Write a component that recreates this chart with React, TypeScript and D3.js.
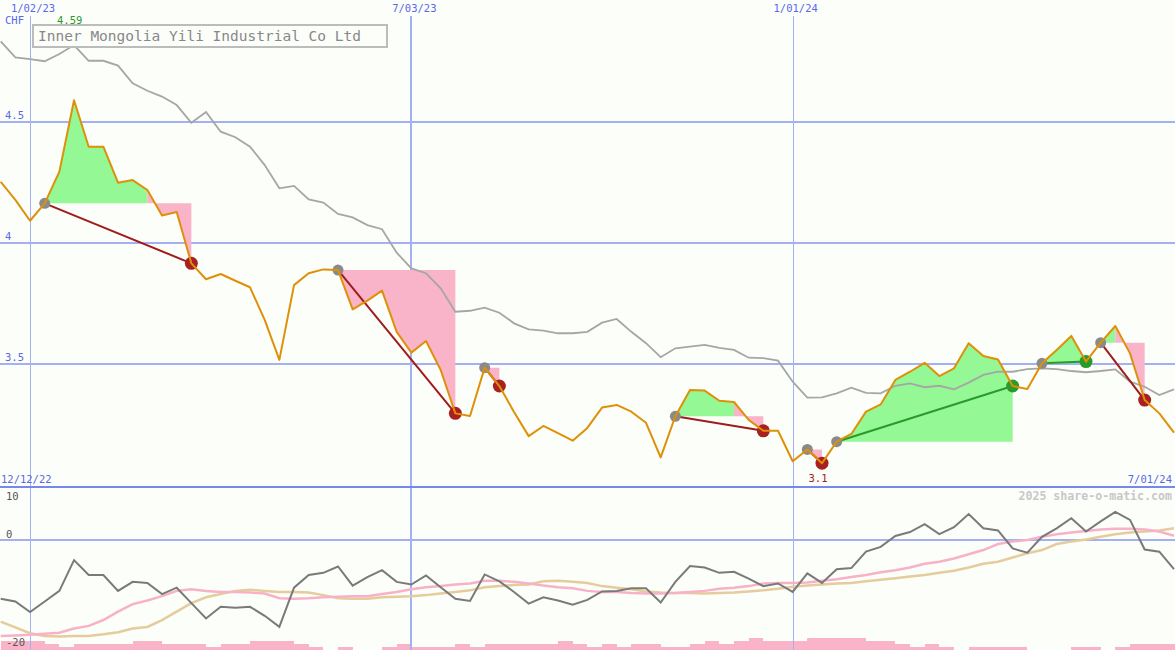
import React from "react";
import * as d3 from "d3";

const price = [4.253,4.178,4.092,4.164,4.295,4.59,4.398,4.398,4.249,4.26,4.219,4.114,4.128,3.916,3.85,3.872,3.844,3.817,3.682,3.517,3.826,3.875,3.891,3.888,3.726,3.762,3.803,3.633,3.547,3.595,3.475,3.296,3.285,3.485,3.409,3.302,3.202,3.244,3.214,3.183,3.236,3.32,3.331,3.303,3.257,3.114,3.284,3.393,3.39,3.348,3.343,3.269,3.224,3.224,3.098,3.147,3.09,3.179,3.211,3.303,3.333,3.434,3.468,3.505,3.45,3.482,3.586,3.533,3.519,3.409,3.397,3.503,3.558,3.616,3.51,3.588,3.657,3.544,3.351,3.296,3.216];
const avg = [4.833,4.767,4.76,4.751,4.781,4.818,4.753,4.753,4.733,4.66,4.629,4.605,4.57,4.497,4.541,4.46,4.437,4.398,4.322,4.226,4.236,4.18,4.167,4.12,4.106,4.074,4.057,3.96,3.895,3.875,3.813,3.716,3.72,3.733,3.712,3.668,3.643,3.638,3.627,3.627,3.633,3.671,3.686,3.633,3.586,3.528,3.565,3.572,3.579,3.567,3.558,3.526,3.524,3.514,3.427,3.361,3.362,3.379,3.402,3.381,3.379,3.41,3.42,3.404,3.41,3.395,3.423,3.455,3.468,3.468,3.479,3.482,3.479,3.471,3.466,3.471,3.478,3.427,3.406,3.372,3.395];
const momentum = [-11.1,-11.6,-13.6,-11.6,-9.6,-3.8,-6.6,-6.6,-9.6,-7.9,-8.1,-10.2,-9.0,-11.9,-14.8,-12.6,-12.8,-12.6,-14.3,-16.4,-9.0,-6.6,-6.2,-5.0,-8.6,-7.0,-5.7,-7.9,-8.4,-6.7,-8.9,-11.1,-11.5,-6.5,-7.8,-9.8,-12.0,-10.8,-11.4,-12.2,-11.3,-9.7,-9.6,-9.1,-9.1,-11.8,-7.9,-4.9,-5.2,-6.2,-6.0,-7.3,-8.7,-8.2,-9.8,-6.3,-8.1,-5.5,-5.3,-2.2,-1.3,0.75,1.5,3.0,1.1,2.4,4.9,2.2,1.8,-1.6,-2.4,0.6,2.2,4.1,1.6,3.5,5.3,3.8,-1.8,-2.2,-5.5];
const signalPink = [-18.1,-18.0,-17.9,-17.7,-17.5,-16.7,-16.2,-15.1,-13.5,-12.1,-11.4,-10.6,-9.6,-9.3,-9.6,-9.8,-9.8,-9.9,-10.1,-11.0,-11.1,-11.0,-10.8,-10.7,-10.6,-10.6,-10.2,-9.8,-9.3,-8.9,-8.7,-8.4,-8.2,-7.7,-7.7,-7.9,-8.2,-8.6,-8.9,-9.1,-9.6,-9.8,-9.8,-10.0,-10.1,-10.1,-10.0,-9.8,-9.6,-9.2,-9.0,-8.7,-8.2,-8.1,-8.1,-8.0,-7.7,-7.4,-7.0,-6.6,-6.1,-5.7,-5.2,-4.5,-4.1,-3.5,-2.7,-1.9,-0.75,-0.3,0,0.6,1.1,1.4,1.7,2.0,2.1,2.1,2.0,1.6,0.8];
const signalTan = [-15.4,-16.5,-17.6,-18.1,-18.2,-18.1,-18.1,-17.8,-17.4,-16.7,-16.4,-15.1,-13.5,-11.9,-10.8,-10.2,-9.6,-9.4,-9.6,-9.8,-9.8,-9.9,-10.4,-11.0,-11.1,-11.1,-10.8,-10.7,-10.6,-10.4,-10.1,-9.8,-9.5,-8.9,-8.7,-8.5,-8.4,-7.8,-7.7,-7.9,-8.1,-8.7,-9.0,-9.3,-9.7,-9.9,-10.0,-10.0,-10.1,-10.0,-9.9,-9.7,-9.5,-9.2,-8.8,-8.6,-8.4,-8.2,-8.1,-7.8,-7.5,-7.2,-6.9,-6.6,-6.2,-5.8,-5.2,-4.5,-4.1,-3.3,-2.5,-1.9,-0.75,-0.3,0.1,0.6,1.1,1.4,1.6,1.8,2.2];
const volume = [9,9,9,6,3,6,6,6,6,9,9,6,6,6,3,6,6,9,9,9,6,3,0,3,0,0,3,6,3,3,3,6,3,6,6,6,6,6,9,6,3,6,3,6,6,3,3,6,9,6,9,12,9,9,9,12,12,12,12,9,9,6,3,6,3,0,3,3,3,3,0,0,0,3,3,0,3,6,6,6,6];

const tradeStarts = [3, 23, 33, 46, 55, 57, 71, 75];
const tradeEnds = [13, 31, 34, 52, 56, 69, 74, 78];

const dateTickLabels = ["1/02/23", "7/03/23", "1/01/24"];
const dateTickIndex = [2, 28, 54];
const dateTickWidth = [1, 2, 1];
const priceTicks = [4.5, 4, 3.5];
const lowerTickValues = [10, 0, -20];

const W = 1175;
const H = 650;
const FONT = "'DejaVu Sans Mono', monospace";
const BLUE_TEXT = "#5a68e8";
const GRID = "#a4b0f2";
const BG = "#fcfefa";
const GREEN_FILL = "#94f894";
const PINK_FILL = "#f9b4c9";

export default function App() {
  const x = d3.scaleLinear().domain([0, price.length - 1]).range([0.7, 1174]);
  const y = d3.scaleLinear().domain([3.5, 4.5]).range([364, 122]);
  const yl = d3.scaleLinear().domain([0, 10]).range([540, 487]);
  const yv = d3.scaleLinear().domain([0, 12]).range([650, 638]);

  const lineP = d3.line<number>().x((_, i) => x(i)).y((d) => y(d));
  const lineL = d3.line<number>().x((_, i) => x(i)).y((d) => yl(d));
  const poly = d3.line<[number, number]>();

  let greenPath = "";
  let pinkPath = "";
  tradeStarts.forEach((s, t) => {
    const e = tradeEnds[t];
    const lvl = price[s];
    for (let k = s; k < e; k++) {
      const up = price[k + 1] >= lvl;
      const pts: [number, number][] = [
        [x(k), y(price[k])],
        [x(k + 1), y(price[k + 1])],
        [x(k + 1), y(lvl)],
        [x(k), y(lvl)],
      ];
      const d = (poly(pts) || "") + "Z";
      if (up) greenPath += d;
      else pinkPath += d;
    }
  });

  let volPath = "";
  volume.forEach((v, i) => {
    if (v <= 0) return;
    const x0 = Math.round(x(i));
    const x1 = Math.round(x(i + 1));
    const y0 = Math.round(yv(v));
    volPath += `M${x0},${y0}H${x1}V${H}H${x0}Z`;
  });

  const minIdx = d3.minIndex(price);
  const maxIdx = d3.maxIndex(price);

  return (
    <div style={{ position: "fixed", left: 0, top: 0 }}>
      <svg width={W} height={H} style={{ display: "block", background: BG }}>
        <rect x={0} y={0} width={W} height={H} fill={BG} />
        {/* volume bars */}
        <path d={volPath} fill={PINK_FILL} />
        {/* grid */}
        {priceTicks.map((t) => (
          <line key={"pg" + t} x1={0} x2={W} y1={Math.round(y(t))} y2={Math.round(y(t))} stroke={GRID} strokeWidth={2} />
        ))}
        {dateTickIndex.map((idx, k) => (
          <line key={"vg" + k} x1={Math.round(x(idx)) + (dateTickWidth[k] === 1 ? 0.5 : 0)} x2={Math.round(x(idx)) + (dateTickWidth[k] === 1 ? 0.5 : 0)} y1={16} y2={H} stroke={GRID} strokeWidth={dateTickWidth[k]} />
        ))}
        <line x1={0} x2={W} y1={yl(0)} y2={yl(0)} stroke={GRID} strokeWidth={2} />
        <line x1={0} x2={W} y1={Math.round(yl(10))} y2={Math.round(yl(10))} stroke="#7888ea" strokeWidth={2} />

        {/* trade fills */}
        <path d={greenPath} fill={GREEN_FILL} stroke="none" />
        <path d={pinkPath} fill={PINK_FILL} stroke="none" />

        {/* moving average */}
        <path d={lineP(avg) || ""} fill="none" stroke="#a6a6a6" strokeWidth={1.8} />

        {/* trade connectors */}
        {tradeStarts.map((s, t) => {
          const e = tradeEnds[t];
          const win = price[e] > price[s];
          return (
            <line key={"c" + t} x1={x(s)} y1={y(price[s])} x2={x(e)} y2={y(price[e])} stroke={win ? "#2a9a2a" : "#a01c1c"} strokeWidth={2} />
          );
        })}
        {tradeStarts.map((s, t) => {
          const e = tradeEnds[t];
          const win = price[e] > price[s];
          return (
            <g key={"m" + t}>
              <circle cx={x(s)} cy={y(price[s])} r={5.5} fill="#8a8a8a" />
              <circle cx={x(e)} cy={y(price[e])} r={6.5} fill={win ? "#2a9a2a" : "#a82020"} />
            </g>
          );
        })}

        {/* price */}
        <path d={lineP(price) || ""} fill="none" stroke="#de9008" strokeWidth={2} strokeLinejoin="round" />

        {/* lower panel */}
        <path d={lineL(signalTan) || ""} fill="none" stroke="#e4cc9c" strokeWidth={2.5} />
        <path d={lineL(signalPink) || ""} fill="none" stroke="#f8b2c8" strokeWidth={2.5} />
        <path d={lineL(momentum) || ""} fill="none" stroke="#7a7a7a" strokeWidth={2} />

        {/* text */}
        <g fontFamily={FONT} fontSize={10.5}>
          {dateTickIndex.map((idx, k) => (
            <text key={"dt" + k} x={x(idx) + 3} y={12} textAnchor="middle" fill={BLUE_TEXT}>
              {dateTickLabels[k]}
            </text>
          ))}
          <text x={5} y={24} fill={BLUE_TEXT}>CHF</text>
          <text x={57} y={24} fill="#2a9a2a">{price[maxIdx].toFixed(2)}</text>
          {priceTicks.map((t) => (
            <text key={"pt" + t} x={5} y={y(t) - 3} fill={BLUE_TEXT}>
              {String(t)}
            </text>
          ))}
          <text x={1} y={483} fill={BLUE_TEXT}>12/12/22</text>
          <text x={1172} y={483} textAnchor="end" fill={BLUE_TEXT}>7/01/24</text>
          <text x={x(minIdx) - 4} y={482} textAnchor="middle" fill="#a82020">{price[minIdx].toFixed(1)}</text>
          <text x={6} y={500} fill="#555">{String(lowerTickValues[0])}</text>
          <text x={6} y={538} fill="#555">{String(lowerTickValues[1])}</text>
          <text x={6} y={646} fill="#555">{String(lowerTickValues[2])}</text>
        </g>
        <text x={1172} y={500} textAnchor="end" fontFamily={FONT} fontSize={11.6} fontWeight="bold" fill="#c8c8c8">
          2025 share-o-matic.com
        </text>

        {/* title */}
        <rect x={33} y={25} width={354} height={22} fill={BG} stroke="#bcbcbc" strokeWidth={2} />
        <text x={38} y={41} fontFamily={FONT} fontSize={14.5} fill="#888">
          Inner Mongolia Yili Industrial Co Ltd
        </text>
      </svg>
    </div>
  );
}
